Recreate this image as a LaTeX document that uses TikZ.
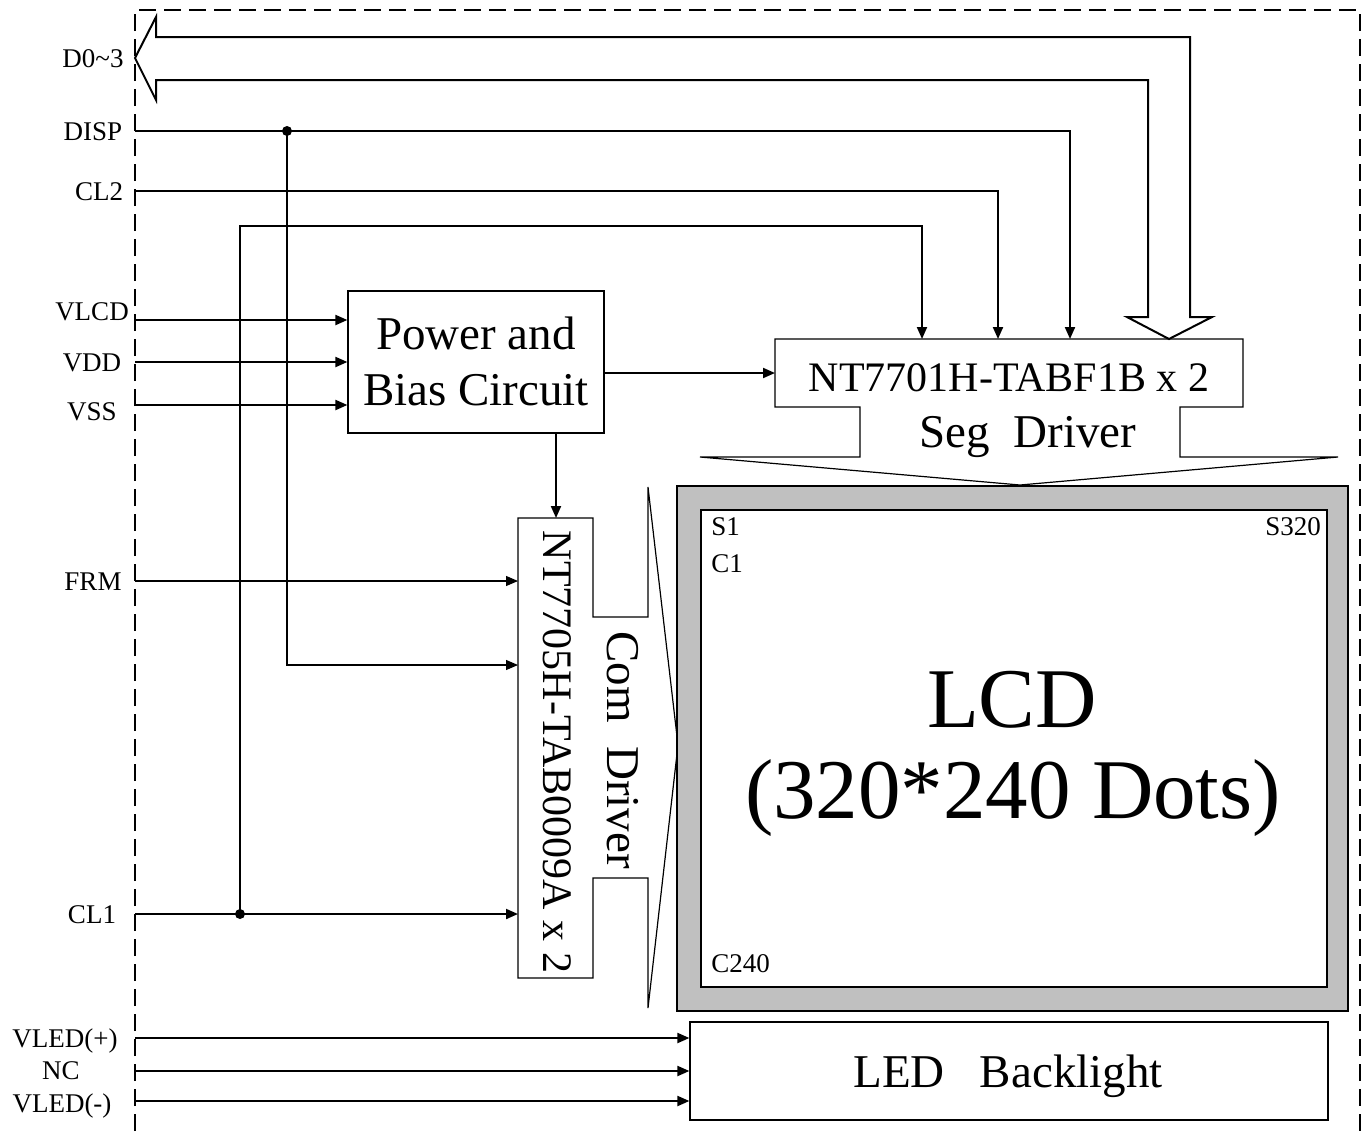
\documentclass[tikz,border=0pt]{standalone}
\usepackage{fontspec}
\setmainfont{Liberation Serif}
\usetikzlibrary{arrows.meta}
\begin{document}
\begin{tikzpicture}[x=0.5pt,y=-0.5pt,
 sig/.style={line width=1pt,-{Triangle[length=6pt,width=5pt]}},
 thinsig/.style={line width=0.6pt,-{Triangle[length=6pt,width=5pt]}},
 wire/.style={line width=1pt},
 outline/.style={line width=0.6pt},
 lbl/.style={font=\fontsize{13.5}{16}\selectfont, anchor=base, inner sep=0pt},
 bigtxt/.style={font=\fontsize{23.5}{28}\selectfont, anchor=base, inner sep=0pt},
 midtxt/.style={font=\fontsize{21}{25}\selectfont, anchor=base, inner sep=0pt},
 smalltxt/.style={font=\fontsize{13.5}{16}\selectfont, anchor=base west, inner sep=0pt},
 boxnode/.style={draw, line width=0.6pt, inner sep=0pt},
 jdot/.style={circle,fill,inner sep=0pt,minimum size=5pt}]
\useasboundingbox (0,0) rectangle (1366,1131);

% dashed border
\draw[line width=1pt, dash pattern=on 8.5pt off 4pt] (135,1131) -- (135,10) -- (1360,10) -- (1360,1131);

% labels
\node[lbl] (lD) at (93,67) {D0\char"007E 3};
\node[lbl] (lDISP) at (93,140) {DISP};
\node[lbl] (lCL2) at (99,200) {CL2};
\node[lbl] (lVLCD) at (92,320) {VLCD};
\node[lbl] (lVDD) at (92,371) {VDD};
\node[lbl] (lVSS) at (92,420) {VSS};
\node[lbl] (lFRM) at (93,590) {FRM};
\node[lbl] (lCL1) at (92,923) {CL1};
\node[lbl] (lVLp) at (65,1047) {VLED(+)};
\node[lbl] (lNC) at (61,1079) {NC};
\node[lbl] (lVLm) at (62,1112) {VLED(-)};

% left ends of signal lines
\coordinate (sDISP) at (135,131);
\coordinate (sCL2) at (135,191);
\coordinate (sVLCD) at (135,320);
\coordinate (sVDD) at (135,362);
\coordinate (sVSS) at (135,405);
\coordinate (sFRM) at (135,581);
\coordinate (sCL1) at (135,914);
\coordinate (sVLp) at (135,1038);
\coordinate (sNC) at (135,1071);
\coordinate (sVLm) at (135,1101);

% D0~3 bus arrow
\draw[line width=1pt, line join=miter] (135,58) -- (156,17) -- (156,37) -- (1190,37) -- (1190,317) -- (1212,317) -- (1169,339) -- (1127,317) -- (1148,317) -- (1148,80) -- (156,80) -- (156,100) -- cycle;

% Power and Bias Circuit
\node[boxnode, minimum width=128pt, minimum height=71pt] (pwr) at (476,362) {};
\node[bigtxt] (pwrT1) at (476,349) {Power and};
\node[bigtxt] (pwrT2) at (476,405) {Bias Circuit};

% Seg driver outline
\draw[outline] (775,339) -- (1243,339) -- (1243,407) -- (1180,407) -- (1180,457) -- (1338,457) -- (1020,485) -- (700,457) -- (860,457) -- (860,407) -- (775,407) -- cycle;
\node[midtxt] (segT1) at (1009,391) {NT7701H-TABF1B x 2};
\node[bigtxt] (segT2) at (1028,447) {Seg\ \ Driver};
\coordinate (segIn) at (775,373);
\coordinate (segA) at (922,339);
\coordinate (segB) at (998,339);
\coordinate (segC) at (1070,339);

% Com driver outline
\draw[outline] (518,518) -- (593,518) -- (593,617) -- (648,617) -- (648,487) -- (678,745) -- (648,1008) -- (648,878) -- (593,878) -- (593,978) -- (518,978) -- cycle;
\node[midtxt, rotate=-90] (comT1) at (543,752) {NT7705H-TAB0009A x 2};
\node[bigtxt, rotate=-90] (comT2) at (607,750) {Com\ \ Driver};
\coordinate (comTop) at (556,518);
\coordinate (comFRM) at (518,581);
\coordinate (comDISP) at (518,665);
\coordinate (comCL1) at (518,914);

% LCD
\node[draw, line width=0.6pt, fill={rgb,255:red,192;green,192;blue,192}, minimum width=335.5pt, minimum height=262.5pt, inner sep=0pt] (lcdO) at (1012.5,748.5) {};
\node[draw, line width=0.6pt, fill=white, minimum width=313pt, minimum height=238.5pt, inner sep=0pt] (lcdI) at (1014,748.5) {};
\node[smalltxt] (s1) at (711,535) {S1};
\node[smalltxt] (c1) at (711,572) {C1};
\node[smalltxt] (s320) at (1265,535) {S320};
\node[smalltxt] (c240) at (711,972) {C240};
\node[font=\fontsize{42.5}{50}\selectfont, anchor=base, inner sep=0pt] (lcdT1) at (1012,727) {LCD};
\node[font=\fontsize{42.5}{50}\selectfont, anchor=base, inner sep=0pt] (lcdT2) at (1013,818) {(320*240 Dots)};

% LED backlight
\node[boxnode, minimum width=319pt, minimum height=49pt] (led) at (1009,1071) {};
\node[bigtxt] (ledT) at (1008,1087) {LED\ \ \ Backlight};

% junctions
\node[jdot] (jDISP) at (287,131) {};
\node[jdot] (jCL1) at (240,914) {};

% connectors
\draw[sig] (sDISP) -- (segC |- sDISP) -- (segC);
\draw[sig] (sCL2) -- (segB |- sCL2) -- (segB);
\draw[sig] (jCL1.center) -- (jCL1.center |- 0,226) -- (segA |- 0,226) -- (segA);
\draw[sig] (sCL1) -- (comCL1);
\draw[thinsig] (jDISP.center) -- (jDISP.center |- comDISP) -- (comDISP);
\draw[thinsig] (sFRM) -- (comFRM);
\draw[sig] (sVLCD) -- (pwr.west |- sVLCD);
\draw[sig] (sVDD) -- (pwr.west |- sVDD);
\draw[sig] (sVSS) -- (pwr.west |- sVSS);
\draw[sig] (pwr.east |- segIn) -- (segIn);
\draw[sig] (pwr.south -| comTop) -- (comTop);
\draw[sig] (sVLp) -- (led.west |- sVLp);
\draw[sig] (sNC) -- (led.west |- sNC);
\draw[sig] (sVLm) -- (led.west |- sVLm);
\end{tikzpicture}
\end{document}
